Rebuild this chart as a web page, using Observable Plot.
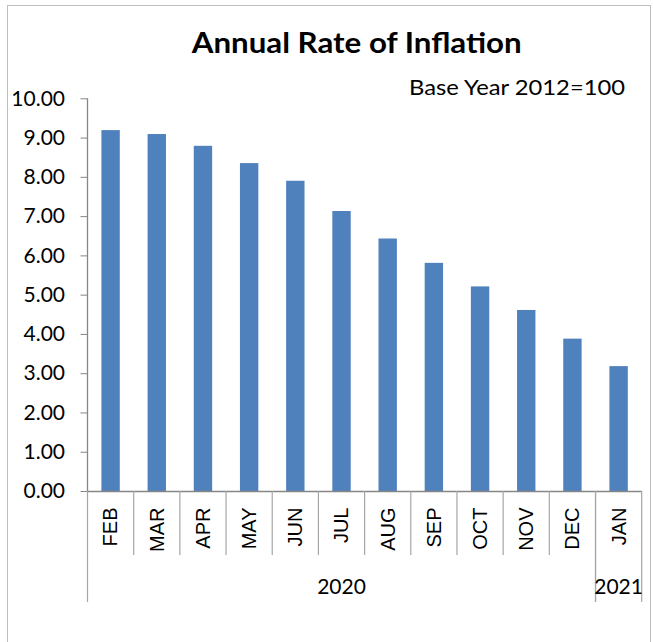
<!DOCTYPE html>
<html>
<head>
<meta charset="utf-8">
<script src="https://cdn.jsdelivr.net/npm/d3@7"></script>
<script src="https://cdn.jsdelivr.net/npm/@observablehq/plot@0.6"></script>
<style>
  body { margin: 0; background: #fff; }
  #wrap { position: relative; width: 653px; height: 642px; overflow: hidden; background: #fff; }
  #border { position: absolute; left: 6.5px; top: 4.5px; width: 644px; height: 660px; border: 1.5px solid #BFBFBF; box-sizing: border-box; }
  #titles { position: absolute; left: 0; top: 0; }
  #chart { position: absolute; left: 0; top: 0; }
</style>
</head>
<body>
<div id="wrap">
  <div id="border"></div>
  <div id="chart"></div>
  <svg id="titles" width="653" height="100"></svg>
</div>
<script>
const months = ["FEB", "MAR", "APR", "MAY", "JUN", "JUL", "AUG", "SEP", "OCT", "NOV", "DEC", "JAN"];
const monthYear = ["2020", "2020", "2020", "2020", "2020", "2020", "2020", "2020", "2020", "2020", "2020", "2021"];
const inflation = [9.19, 9.09, 8.79, 8.35, 7.90, 7.13, 6.43, 5.81, 5.21, 4.61, 3.88, 3.18];
const yTicks = [0, 1, 2, 3, 4, 5, 6, 7, 8, 9, 10];
const titleText = "Annual Rate of Inflation";
const subtitleText = "Base Year 2012=100";

const data = months.map((m, i) => ({month: m, year: monthYear[i], value: inflation[i]}));

const AXIS = "#868686";
const SEP = "#A6A6A6";

// Multi-level category axis: month separators, year separators and year labels
function categoryGroups(index, scales, values, dimensions) {
  const x = scales.x, y = scales.y, bw = x.bandwidth();
  const y0 = y(0);
  const g = d3.create("svg:g");
  // y-axis line
  g.append("line")
    .attr("x1", x(months[0])).attr("x2", x(months[0]))
    .attr("y1", y(10)).attr("y2", y0)
    .attr("stroke", AXIS).attr("stroke-width", 1.3);
  const groups = d3.groups(data, d => d.year);
  for (const [yr, items] of groups) {
    const left = x(items[0].month);
    const right = x(items[items.length - 1].month) + bw;
    for (const xx of [left, right]) {
      g.append("line")
        .attr("x1", xx).attr("x2", xx)
        .attr("y1", y0).attr("y2", y0 + 111)
        .attr("stroke", SEP).attr("stroke-width", 1.2);
    }
    for (const it of items.slice(1)) {
      const xx = x(it.month);
      g.append("line")
        .attr("x1", xx).attr("x2", xx)
        .attr("y1", y0).attr("y2", y0 + 64)
        .attr("stroke", SEP).attr("stroke-width", 1.2);
    }
    g.append("text")
      .attr("x", (left + right) / 2).attr("y", y0 + 103)
      .attr("text-anchor", "middle")
      .attr("font-family", "Lato")
      .attr("font-size", 21)
      .attr("fill", "#000")
      .text(yr);
  }
  return g.node();
}

const chart = Plot.plot({
  width: 653,
  height: 642,
  marginLeft: 87.5,
  marginRight: 11.3,
  marginTop: 98.3,
  marginBottom: 151,
  style: {background: "transparent", fontFamily: "Lato", color: "#000"},
  x: {domain: months, padding: 0, round: false, label: null},
  y: {domain: [0, 10], label: null},
  marks: [
    Plot.barY(data, {x: "month", y: "value", fill: "#4F81BD", insetLeft: 13.9, insetRight: 13.9}),
    Plot.ruleY([0], {stroke: AXIS, strokeWidth: 1.3}),
    Plot.axisY({ticks: yTicks, tickFormat: d3.format(".2f"), tickSize: 7, tickPadding: 16,
                stroke: AXIS, fill: "#000", fontSize: 21, label: null}),
    Plot.axisX({tickSize: 0, tickRotate: -90, tickPadding: 16, fill: "#000",
                fontSize: 20, fontFamily: "Liberation Sans", label: null}),
    categoryGroups
  ]
});
document.getElementById("chart").appendChild(chart);

const t = d3.select("#titles");
t.append("text").attr("x", 356.7).attr("y", 53)
  .attr("text-anchor", "middle").attr("font-family", "Lato").attr("font-weight", "bold")
  .attr("font-size", 28.5).attr("textLength", 330).attr("lengthAdjust", "spacingAndGlyphs")
  .attr("fill", "#000").text(titleText);
t.append("text").attr("x", 625).attr("y", 95)
  .attr("text-anchor", "end").attr("font-family", "Lato")
  .attr("font-size", 22).attr("textLength", 216).attr("lengthAdjust", "spacingAndGlyphs")
  .attr("fill", "#000").text(subtitleText);
</script>
</body>
</html>
